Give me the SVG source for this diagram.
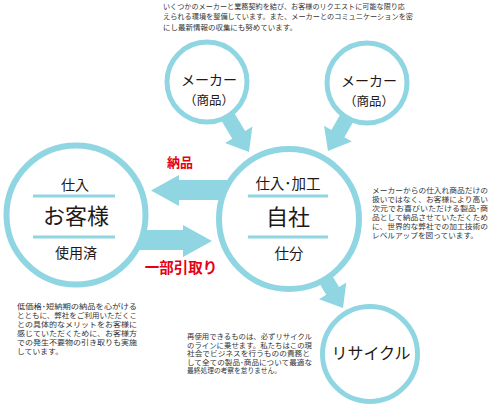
<svg xmlns="http://www.w3.org/2000/svg" width="490" height="407" viewBox="0 0 490 407">
<style>
.c{fill:#fff;stroke:#8fd6e2;}
.a{fill:#8fd6e2;}
.ln{stroke:#8fd6e2;stroke-width:3;}
.t{font-family:"Noto Sans CJK JP","Noto Sans CJK SC",sans-serif;fill:#231815;text-anchor:middle;}
.p{font-family:"Noto Sans CJK JP","Noto Sans CJK SC",sans-serif;fill:#333;font-size:7.4px;}
.r{font-family:"Noto Sans CJK JP","Noto Sans CJK SC",sans-serif;fill:#e60012;font-weight:bold;text-anchor:middle;}
</style>
<rect width="490" height="407" fill="#fff"/>
<g id="connectors">
  <polygon class="a" points="-82,-7.5 -20,-7.5 -20,-16 0,0 -20,16 -20,7.5 -82,7.5" transform="translate(249,152) rotate(59)"/>
  <polygon class="a" points="-82,-7.5 -20,-7.5 -20,-16 0,0 -20,16 -20,7.5 -82,7.5" transform="translate(328,151) rotate(119.7)"/>
  <polygon class="a" points="-104,-7.5 -20,-7.5 -20,-16 0,0 -20,16 -20,7.5 -104,7.5" transform="translate(343,308) rotate(58.8)"/>
  <polygon class="a" points="151,190.5 179,175 179,180 232,180 232,200 179,200 179,206"/>
  <polygon class="a" points="130,230 183,230 183,225 212,241 183,257 183,250 130,250"/>
  <text class="r" x="180" y="167" font-size="13">納品</text>
  <text class="r" x="181" y="272.5" font-size="14.5">一部引取り</text>
</g>
<g id="maker1">
  <circle class="c" cx="207" cy="82" r="40" stroke-width="5"/>
  <text class="t" x="209" y="85" font-size="14">メーカー</text>
  <text class="t" x="209" y="105" font-size="12.5">（商品）</text>
</g>
<g id="maker2">
  <circle class="c" cx="367" cy="83" r="40" stroke-width="5"/>
  <text class="t" x="369" y="86" font-size="14">メーカー</text>
  <text class="t" x="369" y="106" font-size="12.5">（商品）</text>
</g>
<g id="customer">
  <circle class="c" cx="76" cy="215" r="69.5" stroke-width="6"/>
  <line class="ln" x1="33" y1="196" x2="115" y2="196"/>
  <line class="ln" x1="33" y1="237" x2="115" y2="237"/>
  <text class="t" x="75" y="190" font-size="14">仕入</text>
  <text class="t" x="76" y="224" font-size="22">お客様</text>
  <text class="t" x="76" y="258" font-size="14">使用済</text>
</g>
<g id="self">
  <circle class="c" cx="289" cy="219" r="70" stroke-width="6"/>
  <line class="ln" x1="248" y1="196" x2="328" y2="196"/>
  <line class="ln" x1="248" y1="237" x2="328" y2="237"/>
  <text class="t" x="288" y="188.5" font-size="14.5">仕入･加工</text>
  <text class="t" x="288" y="225" font-size="22">自社</text>
  <text class="t" x="289" y="258.5" font-size="14.5">仕分</text>
</g>
<g id="recycle">
  <circle class="c" cx="370" cy="354" r="47.5" stroke-width="5"/>
  <text class="t" x="371" y="359" font-size="16">リサイクル</text>
</g>
<g id="notes">
  <text class="p" font-size="7.3" x="163" y="8.5" textLength="242" lengthAdjust="spacingAndGlyphs">いくつかのメーカーと業務契約を結び、お客様のリクエストに可能な限り応</text>
  <text class="p" font-size="7.3" x="163" y="19" textLength="250" lengthAdjust="spacingAndGlyphs">えられる環境を整備しています。また、メーカーとのコミュニケーションを密</text>
  <text class="p" font-size="7.3" x="163" y="29.5" textLength="134" lengthAdjust="spacingAndGlyphs">にし最新情報の収集にも努めています。</text>

  <text class="p" x="372" y="193" textLength="116" lengthAdjust="spacingAndGlyphs">メーカーからの仕入れ商品だけの</text>
  <text class="p" x="372" y="202" textLength="116" lengthAdjust="spacingAndGlyphs">扱いではなく、お客様により高い</text>
  <text class="p" x="372" y="211" textLength="116" lengthAdjust="spacingAndGlyphs">次元でお喜びいただける製品･商</text>
  <text class="p" x="372" y="220" textLength="116" lengthAdjust="spacingAndGlyphs">品として納品させていただくため</text>
  <text class="p" x="372" y="229" textLength="116" lengthAdjust="spacingAndGlyphs">に、世界的な弊社での加工技術の</text>
  <text class="p" x="372" y="238" textLength="106" lengthAdjust="spacingAndGlyphs">レベルアップを図っています。</text>

  <text class="p" x="17" y="309" textLength="120" lengthAdjust="spacingAndGlyphs">低価格･短納期の納品を心がける</text>
  <text class="p" x="17" y="318" textLength="120" lengthAdjust="spacingAndGlyphs">とともに、弊社をご利用いただくこ</text>
  <text class="p" x="17" y="327" textLength="120" lengthAdjust="spacingAndGlyphs">との具体的なメリットをお客様に</text>
  <text class="p" x="17" y="336" textLength="120" lengthAdjust="spacingAndGlyphs">感じていただくために、お客様方</text>
  <text class="p" x="17" y="345" textLength="120" lengthAdjust="spacingAndGlyphs">での発生不要物の引き取りも実施</text>
  <text class="p" x="17" y="354" textLength="46" lengthAdjust="spacingAndGlyphs">しています。</text>

  <text class="p" font-size="7" x="187" y="339" textLength="125" lengthAdjust="spacingAndGlyphs">再使用できるものは、必ずリサイクル</text>
  <text class="p" font-size="7" x="187" y="347.5" textLength="125" lengthAdjust="spacingAndGlyphs">のラインに乗せます。私たちはこの現</text>
  <text class="p" font-size="7" x="187" y="356" textLength="123" lengthAdjust="spacingAndGlyphs">社会でビジネスを行うものの責務と</text>
  <text class="p" font-size="7" x="187" y="364.5" textLength="125" lengthAdjust="spacingAndGlyphs">して全ての製品･商品について最適な</text>
  <text class="p" font-size="7" x="187" y="373" textLength="94" lengthAdjust="spacingAndGlyphs">最終処理の考察を怠りません。</text>
</g>
</svg>
